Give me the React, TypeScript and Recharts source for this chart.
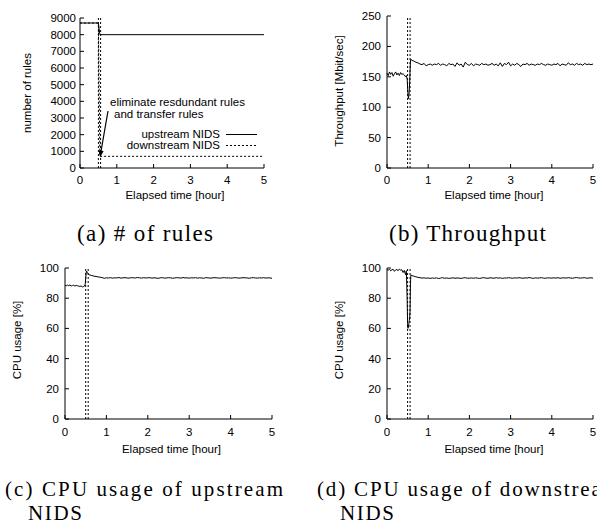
import React from "react";
import { LineChart, Line, XAxis, YAxis, ReferenceLine } from "recharts";

const SANS = '"Liberation Sans", Arial, Helvetica, sans-serif';
const SERIF = '"Liberation Serif", "Times New Roman", serif';

// ---- data ----
const hourTicks = [0, 1, 2, 3, 4, 5];
const ruleTicks = [0, 1000, 2000, 3000, 4000, 5000, 6000, 7000, 8000, 9000];
const throughputTicks = [0, 50, 100, 150, 200, 250];
const cpuTicks = [0, 20, 40, 60, 80, 100];
const markerHours = [0.5, 0.56];

const ruleHours = [0, 0.5, 0.54, 5];
const upstreamRules = [8700, 8700, 8000, 8000];
const downstreamRules = [8700, 8700, 700, 700];

const hours = [
  0, 0.03, 0.06, 0.09, 0.12, 0.15, 0.18, 0.21, 0.24, 0.27, 0.3, 0.33, 0.36, 0.39, 0.42, 0.45, 0.47,
  0.49, 0.5, 0.51, 0.52, 0.53, 0.54, 0.55, 0.56, 0.57, 0.58,
  0.6, 0.65, 0.7, 0.75, 0.8, 0.85, 0.9, 0.95, 1,
  1.05, 1.1, 1.15, 1.2, 1.25, 1.3, 1.35, 1.4, 1.45, 1.5, 1.55, 1.6, 1.65, 1.7, 1.75, 1.8, 1.85, 1.9, 1.95, 2,
  2.05, 2.1, 2.15, 2.2, 2.25, 2.3, 2.35, 2.4, 2.45, 2.5, 2.55, 2.6, 2.65, 2.7, 2.75, 2.8, 2.85, 2.9, 2.95, 3,
  3.05, 3.1, 3.15, 3.2, 3.25, 3.3, 3.35, 3.4, 3.45, 3.5, 3.55, 3.6, 3.65, 3.7, 3.75, 3.8, 3.85, 3.9, 3.95, 4,
  4.05, 4.1, 4.15, 4.2, 4.25, 4.3, 4.35, 4.4, 4.45, 4.5, 4.55, 4.6, 4.65, 4.7, 4.75, 4.8, 4.85, 4.9, 4.95, 5,
];

const throughput = [
  156, 152, 158, 154, 157, 151, 155, 158, 153, 156, 152, 157, 154, 155, 153, 150, 152,
  146, 132, 121, 114, 119, 127, 140, 160, 176, 179,
  177, 176, 174, 173, 171, 170, 172, 168, 170,
  171, 169, 171, 170, 172, 169, 171, 170, 168, 172, 170, 171, 167, 173, 169, 171, 166, 174, 170, 169,
  172, 168, 171, 170, 169, 172, 170, 171, 169, 170, 172, 169, 171, 168, 173, 167, 172, 170, 174, 168,
  171, 169, 172, 170, 167, 171, 170, 172, 169, 171, 170, 169, 171, 170, 172, 170, 169, 171, 170, 169,
  171, 170, 172, 168, 171, 170, 169, 173, 170, 171, 169, 172, 170, 171, 169, 172, 170, 171, 170, 171,
];

const cpuUpstream = [
  88.6, 88.2, 88.7, 88.3, 88.8, 88.1, 88.4, 88.6, 88.0, 88.5, 88.2, 88.0, 87.8, 88.1, 87.5, 87.7, 88.0,
  89.5, 93, 96.5, 98, 97.5, 96.8, 96.5, 96, 95.8, 95.5,
  95.4, 95, 94.6, 94.4, 94.1, 93.9, 93.6, 93.2, 93.5,
  93.4, 93.6, 93.3, 93.5, 93.4, 93.7, 93.3, 93.5, 93.6, 93.4, 93.3, 93.6, 93.5, 93.4, 93.7, 93.5, 93.3, 93.6, 93.4, 93.5,
  93.6, 93.3, 93.5, 93.4, 93.1, 93.5, 93.6, 93.3, 93.4, 93.6, 93.5, 93.2, 93.4, 93.6, 93.5, 93.3, 93.7, 93.4, 93.5, 93.3,
  93.5, 93.4, 93.6, 93.3, 93.5, 93.4, 93.2, 93.6, 93.5, 93.3, 93.4, 93.6, 93.5, 93.4, 93.3, 93.5, 93.6, 93.4, 93.5, 93.3,
  93.4, 93.6, 93.5, 93.3, 93.4, 93.6, 93.5, 93.4, 93.2, 93.5, 93.6, 93.4, 93.3, 93.5, 93.4, 93.6, 93.3, 93.5, 93.4, 93.2,
];

const cpuDownstream = [
  99.0, 98.6, 99.2, 98.1, 98.9, 99.1, 97.8, 98.7, 99.0, 98.2, 99.3, 98.5, 98.9, 97.0, 98.4, 95.5, 98.2,
  78, 63, 60, 61, 63, 65, 67, 72, 90, 95.5,
  95.0, 94.6, 94.2, 93.8, 93.6, 93.3, 93.5, 93.2, 93.4,
  93.1, 93.4, 93.2, 93.5, 93.0, 93.3, 93.6, 93.2, 93.4, 93.1, 93.3, 93.5, 93.2, 93.4, 93.3, 93.1, 93.4, 93.6, 93.2, 93.3,
  93.4, 93.2, 93.5, 93.3, 93.1, 93.4, 93.6, 93.3, 93.2, 93.5, 93.4, 93.2, 93.6, 93.3, 93.5, 93.1, 93.4, 93.3, 93.6, 93.4,
  93.2, 93.5, 93.3, 93.6, 93.4, 93.2, 93.5, 93.3, 93.7, 93.4, 93.1, 93.5, 93.3, 93.4, 93.6, 93.3, 93.2, 93.5, 93.4, 93.3,
  93.5, 93.3, 93.6, 93.2, 93.4, 93.5, 93.3, 93.6, 93.4, 93.2, 93.5, 93.7, 93.4, 93.3, 93.5, 93.6, 93.2, 93.4, 93.5, 93.3,
];

const ruleRows = ruleHours.map((h, i) => ({ h, up: upstreamRules[i], down: downstreamRules[i] }));
const rows = hours.map((h, i) => ({
  h,
  tp: throughput[i],
  cpuUp: cpuUpstream[i],
  cpuDown: cpuDownstream[i],
}));

const tickStyle = { fill: "#000", fontSize: 11.5, fontFamily: SANS };

type Plot = { left: number; top: number; right: number; bottom: number };

function Panel({
  left,
  top,
  width,
  height,
  plot,
  data,
  yTicks,
  yGap,
  xGap,
  children,
}: {
  left: number;
  top: number;
  width: number;
  height: number;
  plot: Plot;
  data: any[];
  yTicks: number[];
  yGap: number;
  xGap: number;
  children: React.ReactNode;
}) {
  const yDomain = [yTicks[0], yTicks[yTicks.length - 1]];
  return (
    <div style={{ position: "absolute", left, top }}>
      <LineChart
        width={width}
        height={height}
        data={data}
        margin={{ top: plot.top, right: width - plot.right, bottom: 0, left: 0 }}
      >
        <XAxis
          dataKey="h"
          type="number"
          domain={[0, 5]}
          ticks={hourTicks}
          interval={0}
          height={height - plot.bottom}
          stroke="#000"
          tickSize={-4}
          tickMargin={4 + xGap}
          tick={tickStyle}
        />
        <XAxis
          xAxisId="top"
          orientation="top"
          dataKey="h"
          type="number"
          domain={[0, 5]}
          ticks={hourTicks}
          interval={0}
          height={0}
          stroke="#000"
          tickSize={-4}
          tickFormatter={() => ""}
        />
        <YAxis
          type="number"
          domain={yDomain}
          ticks={yTicks}
          interval={0}
          width={plot.left}
          stroke="#000"
          tickSize={-4}
          tickMargin={4 + yGap}
          tick={tickStyle}
        />
        <YAxis
          yAxisId="right"
          orientation="right"
          type="number"
          domain={yDomain}
          ticks={yTicks}
          interval={0}
          width={0}
          stroke="#000"
          tickSize={-4}
          tickFormatter={() => ""}
        />
        {markerHours.map((m) => (
          <ReferenceLine key={m} x={m} stroke="#000" strokeWidth={1} strokeDasharray="2 2" />
        ))}
        {children}
      </LineChart>
    </div>
  );
}

function Overlay() {
  const t = { fontFamily: SANS, fontSize: 11.5, fill: "#000" };
  const cap = { fontFamily: SERIF, fontSize: 21, fill: "#000" };
  const bigCap = { ...cap, fontSize: 23 };
  const yLabel = (x: number, y: number, s: string) => (
    <text {...t} x={x} y={y} textAnchor="middle" dominantBaseline="central" transform={`rotate(-90 ${x} ${y})`}>
      {s}
    </text>
  );
  const xLabel = (x: number, y: number) => (
    <text {...t} x={x} y={y} textAnchor="middle" dominantBaseline="central">
      Elapsed time [hour]
    </text>
  );
  return (
    <svg width={597} height={525} style={{ position: "absolute", left: 0, top: 0, pointerEvents: "none" }}>
      {yLabel(27, 93, "number of rules")}
      {yLabel(338.5, 91, "Throughput [Mbit/sec]")}
      {yLabel(16.5, 340, "CPU usage [%]")}
      {yLabel(339, 340, "CPU usage [%]")}
      {xLabel(175, 195)}
      {xLabel(494, 195)}
      {xLabel(171.5, 449)}
      {xLabel(494, 449)}

      {/* annotation in (a) */}
      <text {...t} x={110} y={102} dominantBaseline="central">eliminate resdundant rules</text>
      <text {...t} x={114} y={113.5} dominantBaseline="central">and transfer rules</text>
      <line x1={108} y1={111} x2={100.9} y2={152} stroke="#000" strokeWidth={1.2} />
      <polygon points="100,157.5 103.6,151 98.7,150.2" fill="#000" />

      {/* legend in (a) */}
      <text {...t} x={220} y={134} textAnchor="end" dominantBaseline="central">upstream NIDS</text>
      <line x1={226} y1={134.5} x2={257} y2={134.5} stroke="#000" strokeWidth={1} />
      <text {...t} x={220} y={145} textAnchor="end" dominantBaseline="central">downstream NIDS</text>
      <line x1={226} y1={145.5} x2={257} y2={145.5} stroke="#000" strokeWidth={1} strokeDasharray="2 2" />

      {/* captions */}
      <text {...bigCap} x={77} y={241} textLength={136} lengthAdjust="spacing">(a) # of rules</text>
      <text {...bigCap} x={389} y={241} textLength={157} lengthAdjust="spacing">(b) Throughput</text>
      <text {...cap} x={5} y={496} textLength={278} lengthAdjust="spacing">(c) CPU usage of upstream</text>
      <text {...cap} x={28} y={520} textLength={54} lengthAdjust="spacing">NIDS</text>
      <text {...cap} x={317} y={496} textLength={302} lengthAdjust="spacing">(d) CPU usage of downstream</text>
      <text {...cap} x={340} y={520} textLength={54} lengthAdjust="spacing">NIDS</text>
    </svg>
  );
}

export default function App() {
  return (
    <div style={{ position: "absolute", left: 0, top: 0, width: 597, height: 525, background: "#fff", overflow: "hidden" }}>
      <Panel left={0} top={0} width={298} height={200} plot={{ left: 80, top: 18, right: 264, bottom: 168 }} data={ruleRows} yTicks={ruleTicks} yGap={4} xGap={8}>
        <Line dataKey="up" stroke="#000" strokeWidth={1} dot={false} isAnimationActive={false} />
        <Line dataKey="down" stroke="#000" strokeWidth={1} strokeDasharray="2 2" dot={false} isAnimationActive={false} />
      </Panel>
      <Panel left={300} top={0} width={297} height={200} plot={{ left: 87, top: 16, right: 293, bottom: 168 }} data={rows} yTicks={throughputTicks} yGap={6} xGap={8}>
        <Line dataKey="tp" stroke="#000" strokeWidth={1} dot={false} isAnimationActive={false} />
      </Panel>
      <Panel left={0} top={260} width={298} height={180} plot={{ left: 65, top: 8, right: 272, bottom: 159 }} data={rows} yTicks={cpuTicks} yGap={6} xGap={9}>
        <Line dataKey="cpuUp" stroke="#000" strokeWidth={1} dot={false} isAnimationActive={false} />
      </Panel>
      <Panel left={300} top={260} width={297} height={180} plot={{ left: 87, top: 8, right: 293, bottom: 159 }} data={rows} yTicks={cpuTicks} yGap={6} xGap={9}>
        <Line dataKey="cpuDown" stroke="#000" strokeWidth={1} dot={false} isAnimationActive={false} />
      </Panel>
      <Overlay />
    </div>
  );
}
